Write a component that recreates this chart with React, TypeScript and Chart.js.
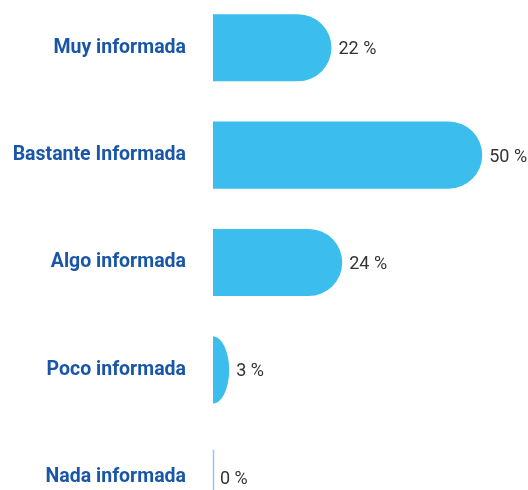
import React, { useEffect, useRef } from "react";
import { Chart, registerables } from "chart.js";

Chart.register(...registerables);

const categories = ["Muy informada", "Bastante Informada", "Algo informada", "Poco informada", "Nada informada"];
const values = [22, 50, 24, 3, 0];
const valueLabels = ["22 %", "50 %", "24 %", "3 %", "0 %"];

const BAR_COLOR = "#3bbdee";

const ellipseBarPlugin = {
  id: "ellipseBars",
  afterDatasetsDraw(chart: any) {
    const ctx = chart.ctx;
    const meta = chart.getDatasetMeta(0);
    meta.data.forEach((el: any, i: number) => {
      const { x, y, base, height } = el.getProps(["x", "y", "base", "height"], true);
      const w = x - base;
      const half = height / 2;
      ctx.save();
      if (values[i] > 0 && w < half) {
        ctx.fillStyle = BAR_COLOR;
        ctx.beginPath();
        ctx.ellipse(base, y, w, half, 0, -Math.PI / 2, Math.PI / 2);
        ctx.closePath();
        ctx.fill();
      }
      if (values[i] === 0) {
        ctx.strokeStyle = "#9ec3e6";
        ctx.lineWidth = 1.5;
        ctx.beginPath();
        ctx.moveTo(base + 0.5, y - half + 6);
        ctx.lineTo(base + 0.5, y + half);
        ctx.stroke();
      }
      ctx.fillStyle = "#333333";
      ctx.font = "18px Roboto";
      ctx.textAlign = "left";
      ctx.textBaseline = "middle";
      ctx.fillText(valueLabels[i], Math.max(x, base) + 7, y + 2);
      ctx.restore();
    });
  },
};

export default function App() {
  const ref = useRef<HTMLCanvasElement>(null);
  useEffect(() => {
    if (!ref.current) return;
    const chart = new Chart(ref.current, {
      type: "bar",
      data: {
        labels: categories,
        datasets: [
          {
            data: values,
            backgroundColor: values.map((v) => (v > 0 && v < 7 ? "rgba(0,0,0,0)" : BAR_COLOR)),
            borderWidth: 0,
            borderSkipped: "start",
            borderRadius: { topLeft: 0, bottomLeft: 0, topRight: 34, bottomRight: 34 },
            barPercentage: 0.625,
            categoryPercentage: 1,
          },
        ],
      },
      options: {
        indexAxis: "y",
        animation: false,
        responsive: false,
        devicePixelRatio: 1,
        layout: { padding: 0 },
        plugins: { legend: { display: false }, tooltip: { enabled: false } },
        scales: {
          x: { display: false, min: 0, max: 58.5 },
          y: {
            grid: { display: false, drawTicks: false },
            border: { display: false },
            ticks: {
              padding: 27,
              color: "#1a56a8",
              font: { family: "Roboto", size: 19.5, weight: "bold" },
            },
            afterFit(scale: any) {
              scale.width = 213;
              scale.paddingTop = 0;
              scale.paddingBottom = 0;
            },
          },
        },
      },
      plugins: [ellipseBarPlugin],
    } as any);
    return () => chart.destroy();
  }, []);
  return (
    <div style={{ position: "fixed", left: 0, top: 0, width: 528, height: 490, overflow: "hidden", background: "#fff" }}>
      <div style={{ position: "absolute", left: 0, top: -6, width: 528, height: 537 }}>
        <canvas ref={ref} width={528} height={537} style={{ width: 528, height: 537, display: "block" }} />
      </div>
    </div>
  );
}
